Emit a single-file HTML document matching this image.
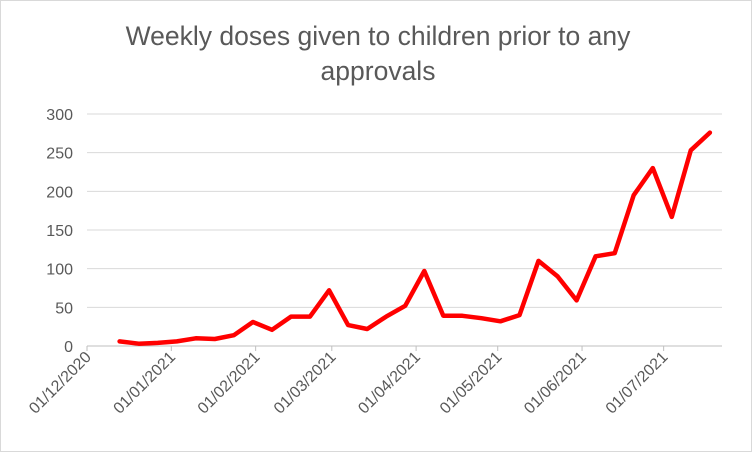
<!DOCTYPE html>
<html><head><meta charset="utf-8"><style>
body{margin:0;background:#fff;}
svg{display:block;font-family:"Liberation Sans",Calibri,sans-serif;}
</style></head><body>
<svg id="chart" width="752" height="452" viewBox="0 0 752 452">
<rect x="0.5" y="0.5" width="751" height="451" fill="#fff" stroke="#d9d9d9"/>
<text x="378" y="45" text-anchor="middle" font-size="26.5" fill="#595959">Weekly doses given to children prior to any</text>
<text x="378" y="80" text-anchor="middle" font-size="26.5" fill="#595959">approvals</text>
<g id="grid"></g><g id="yt"></g><g id="xt"></g><g id="series"></g>
</svg>
<script>
const yTicks=[0,50,100,150,200,250,300];
const xTickLabels=["01/12/2020","01/01/2021","01/02/2021","01/03/2021","01/04/2021","01/05/2021","01/06/2021","01/07/2021"];
const xTickDays=[0,31,62,90,121,151,182,212];
const pointDays=[12,19,26,33,40,47,54,61,68,75,82,89,96,103,110,117,124,131,138,145,152,159,166,173,180,187,194,201,208,215,222,229];
const doses=[6,3,4,6,10,9,14,31,21,38,38,72,27,22,38,52,97,39,39,36,32,40,110,90,59,116,120,195,230,167,253,276];
const NS="http://www.w3.org/2000/svg";
const x0=87,pxDay=2.72,y0=346,pxUnit=232/300;
const X=d=>x0+d*pxDay, Y=v=>y0-v*pxUnit;
function mk(t,a,p){const e=document.createElementNS(NS,t);for(const k in a)e.setAttribute(k,a[k]);p.appendChild(e);return e;}
const grid=document.getElementById('grid'),yt=document.getElementById('yt'),xt=document.getElementById('xt'),ser=document.getElementById('series');
yTicks.forEach(v=>{
 const l=mk('line',{x1:x0,x2:722,y1:Y(v),y2:Y(v),stroke:v===0?'#bfbfbf':'#d9d9d9','stroke-width':1},grid);
 
 
 const t=mk('text',{x:73,y:Y(v)+6,'text-anchor':'end','font-size':16,fill:'#595959'},yt);
 t.textContent=v;
 
 
});
xTickDays.forEach((d,i)=>{
 const tk=mk('line',{x1:X(d),x2:X(d),y1:y0,y2:y0+5,stroke:'#bfbfbf'},xt);
 
 
 const t=mk('text',{x:X(d)+5,y:y0+12,'text-anchor':'end','font-size':16,fill:'#595959',transform:`rotate(-45 ${X(d)+5} ${y0+12})`},xt);
 t.textContent=xTickLabels[i];
 
 
});
const pts=doses.map((v,i)=>X(pointDays[i]).toFixed(1)+','+Y(v).toFixed(1)).join(' ');
const pl=mk('polyline',{points:pts,fill:'none',stroke:'#ff0000','stroke-width':4.5,'stroke-linejoin':'round','stroke-linecap':'round'},ser);


</script>
</body></html>
